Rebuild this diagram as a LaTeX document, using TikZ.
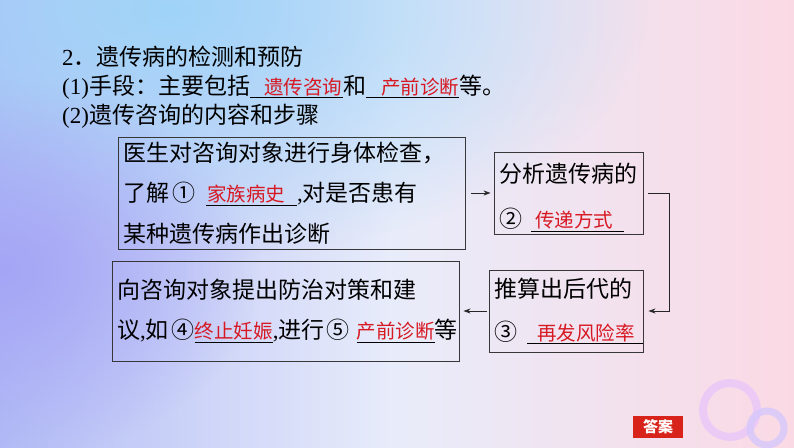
\documentclass[tikz,border=0pt]{standalone}
\usepackage{fontspec}
\setmainfont{Liberation Serif}
\newfontfamily\cjk{Noto Sans CJK SC}
\usetikzlibrary{arrows.meta,fadings}
\definecolor{ansred}{RGB}{215,25,35}
\definecolor{boxgray}{RGB}{55,55,55}
\definecolor{bgleft}{RGB}{178,188,246}
\definecolor{bgmid}{RGB}{232,236,250}
\definecolor{bgright}{RGB}{251,217,228}
\definecolor{bgsky}{RGB}{160,212,248}
\definecolor{bgviolet}{RGB}{165,165,245}
\definecolor{ringa}{RGB}{232,198,250}
\definecolor{ringb}{RGB}{214,200,252}
\definecolor{badge}{RGB}{215,35,25}
\tikzfading[name=glow, inner color=transparent!0, outer color=transparent!100]
\newsavebox\ansbox
\newcommand{\ans}[3]{\sbox\ansbox{\kern#1\textcolor{ansred}{\fontsize{19.5}{20}\selectfont#3}\kern#2}\rlap{\rule[-4pt]{\wd\ansbox}{0.9pt}}\usebox\ansbox}
\begin{document}
\begin{tikzpicture}[x=1pt,y=-1pt,
  txt/.style={anchor=west,inner sep=0pt,font=\fontsize{23}{23}\selectfont},
  stepbox/.style={draw=boxgray,line width=0.9pt,inner xsep=5pt,inner ysep=0pt,align=left},
  arr/.style={-{Stealth[length=7pt,width=5pt]},line width=0.8pt,draw=black!85}]
\useasboundingbox (0,0) rectangle (794,447);
\shade[left color=bgleft,right color=bgright,middle color=bgmid] (0,0) rectangle (794,447);
\fill[bgsky,path fading=glow] (170,10) ellipse (480pt and 250pt);
\fill[bgviolet,path fading=glow] (0,270) ellipse (260pt and 190pt);
\draw[ringa,line width=8pt,opacity=.8] (730,410) circle (27pt);
\draw[ringb,line width=7pt,opacity=.8] (767,428) circle (17pt);

\node[txt] (title) at (62,57) {2{\cjk ．遗传病的检测和预防}};
\node[txt] (means) at (62,87) {(1)\cjk 手段：主要包括\ans{14pt}{1pt}{遗传咨询}和\ans{15pt}{0pt}{产前诊断}等。};
\node[txt] (steps) at (62,116) {(2)\cjk 遗传咨询的内容和步骤};

\node[stepbox,text width=337pt,minimum height=112pt,font=\cjk\fontsize{23}{40.5}\selectfont] (exam) at (291.5,193)
  {医生对咨询对象进行身体检查，\\了解\kern4pt①\kern10pt\ans{1pt}{12pt}{家族病史}{\rmfamily ,}对是否患有\\某种遗传病作出诊断};
\node[stepbox,text width=139pt,minimum height=82pt,font=\cjk\fontsize{23}{45}\selectfont] (mode) at (568.5,193)
  {\rule{0pt}{28pt}分析遗传病的\\②\kern9pt\ans{4pt}{11pt}{传递方式}};
\node[stepbox,text width=144pt,minimum height=82pt,font=\cjk\fontsize{23}{43}\selectfont] (risk) at (566,311)
  {推算出后代的\\③\kern10pt\ans{10pt}{8pt}{再发风险率}};
\node[stepbox,text width=337pt,minimum height=100pt,font=\cjk\fontsize{23}{40}\selectfont] (advice) at (285.5,311)
  {向咨询对象提出防治对策和建\\议{\rmfamily ,}如\kern3pt④\ans{0pt}{0pt}{终止妊娠}{\rmfamily ,}进行\kern2pt⑤\kern7pt\ans{0pt}{0pt}{产前诊断}等};

\draw[arr,shorten <=6pt,shorten >=3pt] (exam) -- (mode);
\draw[arr] ([xshift=5pt]mode.east) -- ++(21pt,0) |- ([xshift=5pt]risk.east);
\draw[arr,shorten <=2pt,shorten >=4pt] (risk) -- (advice);

\node[fill=badge,text=white,minimum width=50pt,minimum height=22pt,font=\cjk\fontsize{15}{15}\selectfont\bfseries] (answer) at (658,427) {答案};
\end{tikzpicture}
\end{document}
